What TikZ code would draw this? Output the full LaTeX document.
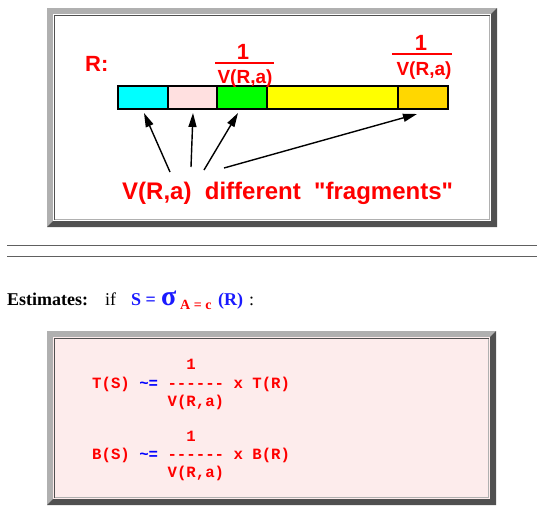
\documentclass[tikz,border=0pt]{standalone}
\usepackage{fontspec}
\setmainfont{Liberation Serif}
\newfontfamily\helvfont{Liberation Sans}
\newfontfamily\codefont{Liberation Mono}
\usetikzlibrary{arrows.meta}

\definecolor{framelight}{HTML}{B0B0B0}
\definecolor{framedark}{HTML}{505050}
\definecolor{rulegray}{HTML}{606060}
\definecolor{panelpink}{HTML}{FDECEC}
\definecolor{fragcyan}{HTML}{00FFFF}
\definecolor{fragpink}{HTML}{FFE0E0}
\definecolor{fraggreen}{HTML}{00FF00}
\definecolor{fragyellow}{HTML}{FFFF00}
\definecolor{fraggold}{HTML}{FFD700}
\definecolor{eqblue}{HTML}{1A1AFF}
\definecolor{eqred}{HTML}{FF0000}

\newcommand{\bevelbox}[5]{
  \fill[framelight] (#1,#2) rectangle (#3,#4);
  \fill[framedark] (#3,#2) -- (#3,#4) -- (#1,#4) -- (#1+6,#4-6) -- (#3-6,#4-6) -- (#3-6,#2+6) -- cycle;
  \fill[#5] (#1+6,#2+6) rectangle (#3-6,#4-6);
  \draw[framedark,line width=1.4pt] (#1+7.5,#4-7.5) -- (#1+7.5,#2+7.5) -- (#3-7.5,#2+7.5);
  \draw[framelight,line width=1.4pt] (#3-7.5,#2+7.5) -- (#3-7.5,#4-7.5) -- (#1+7.5,#4-7.5);
}

\tikzset{
  frag/.style={draw=black,line width=1.3pt},
  fragarrow/.style={-{Triangle[length=14pt,width=8pt]},line width=1.4pt},
  redlbl/.style={anchor=base,inner sep=0pt,text=eqred,font=\helvfont\bfseries\fontsize{19}{22}\selectfont},
  codeline/.style={anchor=base west,inner sep=0pt,text=eqred,font=\codefont\bfseries\fontsize{15.7}{18}\selectfont},
  esttxt/.style={anchor=base west,inner sep=0pt,font=\bfseries\fontsize{18}{20}\selectfont}
}

\begin{document}
\begin{tikzpicture}[x=1pt,y=-1pt]
\useasboundingbox (0,0) rectangle (537,512);
\fill[white] (0,0) rectangle (537,512);

\bevelbox{47}{8}{497}{227}{white}
\node[redlbl,anchor=base west,font=\helvfont\bfseries\fontsize{22}{24}\selectfont] (rname) at (85,71) {R:};
\draw[frag,fill=fragcyan] (118,86) rectangle (168,109);
\draw[frag,fill=fragpink] (168,86) rectangle (217,109);
\draw[frag,fill=fraggreen] (217,86) rectangle (267,109);
\draw[frag,fill=fragyellow] (267,86) rectangle (398,109);
\draw[frag,fill=fraggold] (398,86) rectangle (448,109);
\node[redlbl,font=\helvfont\bfseries\fontsize{22}{24}\selectfont] (num1) at (243,59) {1};
\draw[eqred,line width=2pt] (215,62.5) -- (274,62.5);
\node[redlbl] (den1) at (245,83) {V(R,a)};
\node[redlbl,font=\helvfont\bfseries\fontsize{22}{24}\selectfont] (num2) at (421,50) {1};
\draw[eqred,line width=2pt] (392,53.5) -- (452,53.5);
\node[redlbl] (den2) at (424,75) {V(R,a)};
\node[redlbl,anchor=base west,font=\helvfont\bfseries\fontsize{24}{26}\selectfont] (caption) at (122,199) {V(R,a)\ \ different\ \ "fragments"};
\coordinate (from1) at (170,172);
\coordinate (from2) at (191,167);
\coordinate (from3) at (204,170);
\coordinate (from4) at (224,168);
\coordinate (to1) at (144,113);
\coordinate (to2) at (193,113);
\coordinate (to3) at (238,113);
\coordinate (to4) at (417,114);
\draw[fragarrow] (from1) -- (to1);
\draw[fragarrow] (from2) -- (to2);
\draw[fragarrow] (from3) -- (to3);
\draw[fragarrow] (from4) -- (to4);

\draw[rulegray,line width=1.5pt] (7,245.7) -- (537,245.7);
\draw[rulegray,line width=1.5pt] (7,256.7) -- (537,256.7);

\node[esttxt] (est) at (7,305) {Estimates:};
\node[esttxt,font=\fontsize{18}{20}\selectfont] (ifw) at (105,305) {if};
\node[esttxt,text=eqblue] (seq) at (131,305) {S =};
\node[esttxt,text=eqblue,font=\bfseries\fontsize{28}{30}\selectfont] (sig) at (161,305) {σ};
\node[esttxt,text=eqred,font=\bfseries\fontsize{14}{16}\selectfont] (sub) at (180,309) {A = c};
\node[esttxt,text=eqblue] (arg) at (218,305) {(R)};
\node[esttxt,font=\fontsize{18}{20}\selectfont] (colon) at (249,305) {:};

\bevelbox{47}{331}{496}{505}{panelpink}
\node[codeline] (tnum) at (186.2,369) {1};
\node[codeline] (trow) at (92,388) {T(S)\ {\color{blue}\textasciitilde=}\ -{}-{}-{}-{}-{}-\ x\ T(R)};
\node[codeline] (tden) at (167.4,406) {V(R,a)};
\node[codeline] (bnum) at (186.2,441) {1};
\node[codeline] (brow) at (92,459) {B(S)\ {\color{blue}\textasciitilde=}\ -{}-{}-{}-{}-{}-\ x\ B(R)};
\node[codeline] (bden) at (167.4,477) {V(R,a)};
\end{tikzpicture}
\end{document}
